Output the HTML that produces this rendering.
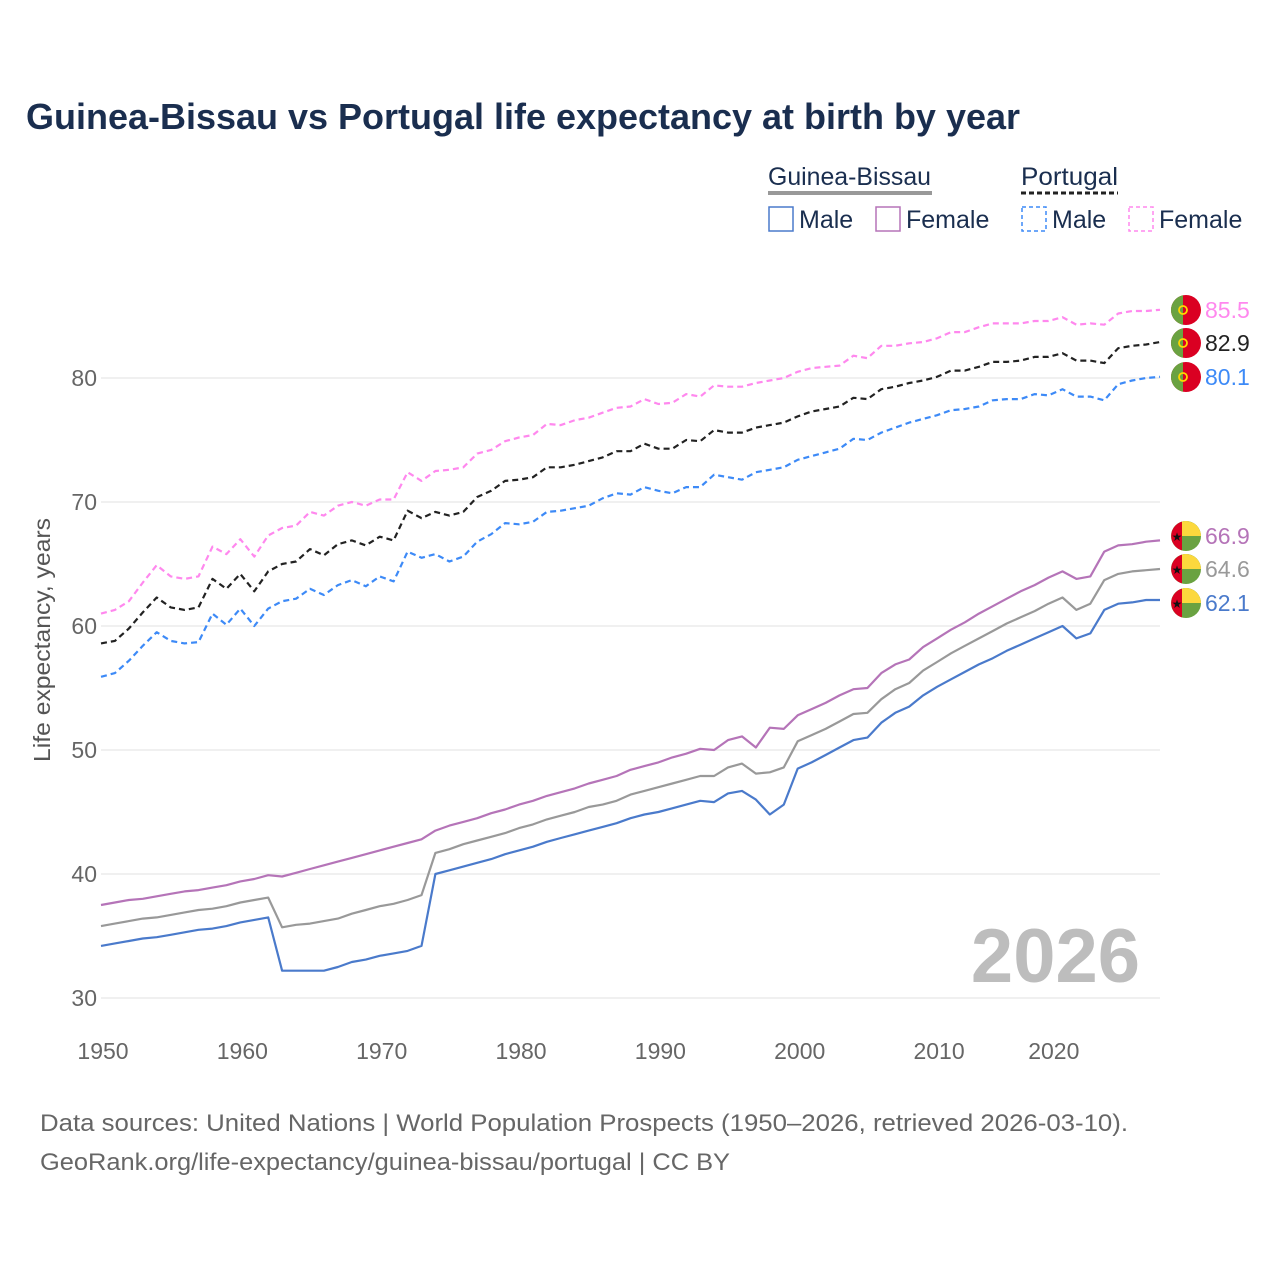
<!DOCTYPE html>
<html><head><meta charset="utf-8">
<style>
body{margin:0;background:#fff;width:1280px;height:1280px;overflow:hidden;font-family:"Liberation Sans",sans-serif;}
svg text{font-family:"Liberation Sans",sans-serif;}
</style></head>
<body>
<svg id="chart" width="1280" height="1280" viewBox="0 0 1280 1280" xmlns="http://www.w3.org/2000/svg">
<text x="26" y="129" font-size="36" font-weight="bold" fill="#1a2e4f" textLength="994" lengthAdjust="spacingAndGlyphs">Guinea-Bissau vs Portugal life expectancy at birth by year</text>
<g font-size="25" fill="#1a2e4f">
<text x="768" y="185" fill="#1a2e4f" textLength="163" lengthAdjust="spacingAndGlyphs">Guinea-Bissau</text>
<line x1="768" y1="193" x2="932" y2="193" stroke="#999" stroke-width="4"/>
<text x="1021" y="185" fill="#1a2e4f" textLength="97" lengthAdjust="spacingAndGlyphs">Portugal</text>
<line x1="1021" y1="193" x2="1118" y2="193" stroke="#222" stroke-width="3" stroke-dasharray="5,3"/>
<g><rect x="769" y="207" width="24" height="24" fill="none" stroke="#4a7acb" stroke-width="1.5"/><text x="799" y="228">Male</text></g>
<g><rect x="876" y="207" width="24" height="24" fill="none" stroke="#b574b8" stroke-width="1.5"/><text x="906" y="228">Female</text></g>
<g><rect x="1022" y="207" width="24" height="24" fill="none" stroke="#3d8af7" stroke-width="1.5" stroke-dasharray="4,3"/><text x="1052" y="228">Male</text></g>
<g><rect x="1129" y="207" width="24" height="24" fill="none" stroke="#ff88ee" stroke-width="1.5" stroke-dasharray="4,3"/><text x="1159" y="228">Female</text></g>
</g>
<g id="grid"></g>
<g id="series"></g>
<g id="ends"></g>
<text transform="translate(50,640) rotate(-90)" text-anchor="middle" font-size="23" fill="#555" textLength="244" lengthAdjust="spacingAndGlyphs">Life expectancy, years</text>
<text x="1140" y="982" text-anchor="end" font-size="76" font-weight="bold" fill="#bdbdbd">2026</text>
<text x="40" y="1131" font-size="24" fill="#666" textLength="1088" lengthAdjust="spacingAndGlyphs">Data sources: United Nations | World Population Prospects (1950–2026, retrieved 2026-03-10).</text>
<text x="40" y="1170" font-size="24" fill="#666" textLength="690" lengthAdjust="spacingAndGlyphs">GeoRank.org/life-expectancy/guinea-bissau/portugal | CC BY</text>
</svg>
<script>
const years=[];for(let y=1950;y<=2026;y++)years.push(y);
const yTicks=[30,40,50,60,70,80];
const xTicks=[1950,1960,1970,1980,1990,2000,2010,2020];
const ptFemale=[61.0,61.3,62.0,63.5,64.9,64.0,63.8,64.0,66.4,65.8,67.0,65.6,67.3,67.9,68.1,69.2,68.9,69.7,70.0,69.7,70.2,70.2,72.4,71.7,72.5,72.6,72.8,73.9,74.2,74.9,75.2,75.4,76.3,76.2,76.6,76.8,77.2,77.6,77.7,78.3,77.9,78.0,78.7,78.5,79.4,79.3,79.3,79.6,79.8,80.0,80.5,80.8,80.9,81.0,81.8,81.6,82.6,82.6,82.8,82.9,83.2,83.7,83.7,84.1,84.4,84.4,84.4,84.6,84.6,84.9,84.3,84.4,84.3,85.2,85.4,85.4,85.5];
const ptTotal=[58.6,58.8,59.8,61.1,62.3,61.5,61.3,61.5,63.8,63.0,64.2,62.8,64.4,65.0,65.2,66.2,65.7,66.6,66.9,66.5,67.2,66.9,69.3,68.7,69.2,68.9,69.2,70.4,70.9,71.7,71.8,72.0,72.8,72.8,73.0,73.3,73.6,74.1,74.1,74.7,74.3,74.3,75.0,74.9,75.8,75.6,75.6,76.0,76.2,76.4,76.9,77.3,77.5,77.7,78.4,78.3,79.1,79.3,79.6,79.8,80.1,80.6,80.6,80.9,81.3,81.3,81.4,81.7,81.7,82.0,81.4,81.4,81.2,82.4,82.6,82.7,82.9];
const ptMale=[55.9,56.2,57.2,58.4,59.5,58.8,58.6,58.7,61.0,60.1,61.4,60.0,61.4,62.0,62.2,63.0,62.5,63.3,63.7,63.2,64.0,63.6,66.0,65.5,65.8,65.2,65.6,66.8,67.4,68.3,68.2,68.4,69.2,69.3,69.5,69.7,70.3,70.7,70.6,71.2,70.9,70.7,71.2,71.2,72.2,72.0,71.8,72.4,72.6,72.8,73.4,73.7,74.0,74.3,75.1,75.0,75.6,76.0,76.4,76.7,77.0,77.4,77.5,77.7,78.2,78.3,78.3,78.7,78.6,79.1,78.5,78.5,78.2,79.5,79.8,80.0,80.1];
const gbFemale=[37.5,37.7,37.9,38.0,38.2,38.4,38.6,38.7,38.9,39.1,39.4,39.6,39.9,39.8,40.1,40.4,40.7,41.0,41.3,41.6,41.9,42.2,42.5,42.8,43.5,43.9,44.2,44.5,44.9,45.2,45.6,45.9,46.3,46.6,46.9,47.3,47.6,47.9,48.4,48.7,49.0,49.4,49.7,50.1,50.0,50.8,51.1,50.2,51.8,51.7,52.8,53.3,53.8,54.4,54.9,55.0,56.2,56.9,57.3,58.3,59.0,59.7,60.3,61.0,61.6,62.2,62.8,63.3,63.9,64.4,63.8,64.0,66.0,66.5,66.6,66.8,66.9];
const gbTotal=[35.8,36.0,36.2,36.4,36.5,36.7,36.9,37.1,37.2,37.4,37.7,37.9,38.1,35.7,35.9,36.0,36.2,36.4,36.8,37.1,37.4,37.6,37.9,38.3,41.7,42.0,42.4,42.7,43.0,43.3,43.7,44.0,44.4,44.7,45.0,45.4,45.6,45.9,46.4,46.7,47.0,47.3,47.6,47.9,47.9,48.6,48.9,48.1,48.2,48.6,50.7,51.2,51.7,52.3,52.9,53.0,54.1,54.9,55.4,56.4,57.1,57.8,58.4,59.0,59.6,60.2,60.7,61.2,61.8,62.3,61.3,61.8,63.7,64.2,64.4,64.5,64.6];
const gbMale=[34.2,34.4,34.6,34.8,34.9,35.1,35.3,35.5,35.6,35.8,36.1,36.3,36.5,32.2,32.2,32.2,32.2,32.5,32.9,33.1,33.4,33.6,33.8,34.2,40.0,40.3,40.6,40.9,41.2,41.6,41.9,42.2,42.6,42.9,43.2,43.5,43.8,44.1,44.5,44.8,45.0,45.3,45.6,45.9,45.8,46.5,46.7,46.0,44.8,45.6,48.5,49.0,49.6,50.2,50.8,51.0,52.2,53.0,53.5,54.4,55.1,55.7,56.3,56.9,57.4,58.0,58.5,59.0,59.5,60.0,59.0,59.4,61.3,61.8,61.9,62.1,62.1];
const endLabels=[85.5,82.9,80.1,66.9,64.6,62.1];

const NS="http://www.w3.org/2000/svg";
const X0=101,X1=1160,Y30=998,PPU=12.4;
function xs(y){return X0+(y-1950)*(X1-X0)/(2026-1950);}
function ys(v){return Y30-(v-30)*PPU;}
function mk(tag,attrs,parent){const e=document.createElementNS(NS,tag);for(const k in attrs)e.setAttribute(k,attrs[k]);parent.appendChild(e);return e;}
const grid=document.getElementById('grid');
yTicks.forEach(t=>{
  const l=mk('line',{x1:X0,x2:X1,y1:ys(t),y2:ys(t),stroke:'#e6e6e6','stroke-width':1.2},grid);
  
  
  const tx=mk('text',{x:97,y:ys(t)+8,'text-anchor':'end','font-size':23,fill:'#666'},grid);
  tx.textContent=t;
  
  
});
xTicks.forEach(t=>{
  const last=t===2020;
  const tx=mk('text',{x:last?xs(t)+3:xs(t)+2,y:1059,'text-anchor':last?'end':'middle','font-size':23,fill:'#666'},grid);
  tx.textContent=t;
  
  
});
const ser=document.getElementById('series');
const defs=[[gbFemale,'#b574b8',null,'gb-female-line'],[gbTotal,'#999999',null,'gb-total-line'],[gbMale,'#4a7acb',null,'gb-male-line'],
[ptFemale,'#ff88ee','6,4','pt-female-line'],[ptTotal,'#222222','6,4','pt-total-line'],[ptMale,'#3d8af7','6,4','pt-male-line']];
defs.forEach(([d,c,da,n])=>{
  const pts=d.map((v,i)=>xs(years[i]).toFixed(1)+','+ys(v).toFixed(1)).join(' ');
  const p=mk('polyline',{points:pts,fill:'none',stroke:c,'stroke-width':2.2,'stroke-linejoin':'round'},ser);
  if(da)p.setAttribute('stroke-dasharray',da);
  
  
});
const ends=document.getElementById('ends');
const endColors=['#ff88ee','#222222','#3d8af7','#b574b8','#999999','#4a7acb'];
const endY=[310,343,377,536,569,603];
endLabels.forEach((v,i)=>{
  const g=mk('g',{},ends);
  
  
  const cx=1186,cy=endY[i],r=15;
  if(i<3){
    mk('circle',{cx,cy,r,fill:'#da0022'},g);
    mk('path',{d:`M${cx-3},${cy-r+0.3} A${r},${r} 0 0 0 ${cx-3},${cy+r-0.3} Z`,fill:'#6aa241'},g);
    mk('circle',{cx:cx-3,cy,r:4,fill:'none',stroke:'#ffd700','stroke-width':1.8},g);
  }else{
    mk('circle',{cx,cy,r,fill:'#6aa241'},g);
    mk('path',{d:`M${cx-4},${cy} L${cx+r},${cy} A${r},${r} 0 0 0 ${cx-4},${cy-r+0.6} Z`,fill:'#fcd83d'},g);
    mk('path',{d:`M${cx-4},${cy-r+0.6} A${r},${r} 0 0 0 ${cx-4},${cy+r-0.6} Z`,fill:'#da0022'},g);
    const s=mk('text',{x:cx-9,y:cy+5,'text-anchor':'middle','font-size':12,fill:'#111'},g);s.textContent='★';
  }
  const t=mk('text',{x:1205,y:cy+8,'font-size':23,fill:endColors[i]},ends);
  t.textContent=v.toFixed(1);
  
  
});
</script>
</body></html>
